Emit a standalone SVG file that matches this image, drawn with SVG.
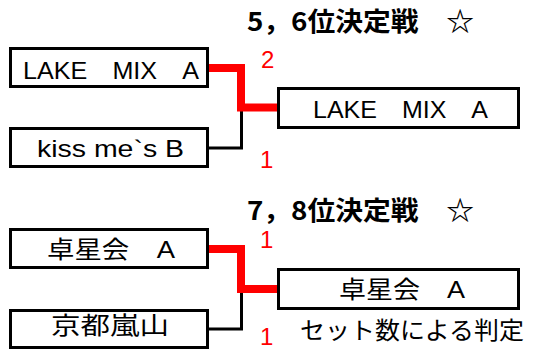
<svg xmlns="http://www.w3.org/2000/svg" width="538" height="350" viewBox="0 0 538 350">
<style>
.box{fill:#fff;stroke:#000;stroke-width:3}
.t{font-family:"Liberation Sans","Noto Sans CJK JP",sans-serif;font-size:24px;fill:#000}
.title{font-family:"Noto Sans CJK JP","Liberation Sans",sans-serif;font-size:26px;font-weight:bold;fill:#000}
.num{font-family:"Liberation Sans",sans-serif;font-size:24px;fill:#f00}
.red{fill:none;stroke:#f00;stroke-width:8}
.blk{fill:none;stroke:#000;stroke-width:3}
</style>
<rect width="538" height="350" fill="#fff"/>
<g id="connectors">
<path class="blk" d="M208 148 H241.5 V110"/>
<path class="red" d="M206 68 H241 V107.5 H279"/>
<path class="blk" d="M208 329 H241.5 V291"/>
<path class="red" d="M206 249 H241 V289 H279"/>
</g>
<g id="title1"><text class="title" x="247" y="31" textLength="227" lengthAdjust="spacingAndGlyphs">5，6位決定戦　☆</text></g>
<g id="title2"><text class="title" x="247" y="220" textLength="227" lengthAdjust="spacingAndGlyphs">7，8位決定戦　☆</text></g>
<g id="n1"><rect class="box" x="10.5" y="48.5" width="197" height="38"/><text class="t" x="23" y="79" textLength="176" lengthAdjust="spacingAndGlyphs">LAKE　MIX　A</text></g>
<g id="n2"><rect class="box" x="10.5" y="128.5" width="197" height="38"/><text class="t" x="37" y="157" textLength="147" lengthAdjust="spacingAndGlyphs">kiss me`s B</text></g>
<g id="n3"><rect class="box" x="278.5" y="88.5" width="240" height="39"/><text class="t" x="313" y="118" textLength="175" lengthAdjust="spacingAndGlyphs">LAKE　MIX　A</text></g>
<g id="n4"><rect class="box" x="10.5" y="229.5" width="197" height="38"/><text class="t" x="47" y="258" textLength="128" lengthAdjust="spacingAndGlyphs">卓星会　A</text></g>
<g id="n5"><rect class="box" x="10.5" y="310.5" width="197" height="37"/><text class="t" x="51" y="334" textLength="118" lengthAdjust="spacingAndGlyphs">京都嵐山</text></g>
<g id="n6"><rect class="box" x="278.5" y="269.5" width="240" height="39"/><text class="t" x="339" y="298" textLength="126" lengthAdjust="spacingAndGlyphs">卓星会　A</text></g>
<g id="note"><text class="t" x="300" y="339" textLength="224" lengthAdjust="spacingAndGlyphs">セット数による判定</text></g>
<g id="scores">
<text class="num" x="261" y="68">2</text>
<text class="num" x="260" y="168">1</text>
<text class="num" x="260" y="248">1</text>
<text class="num" x="260" y="345">1</text>
</g>
</svg>
